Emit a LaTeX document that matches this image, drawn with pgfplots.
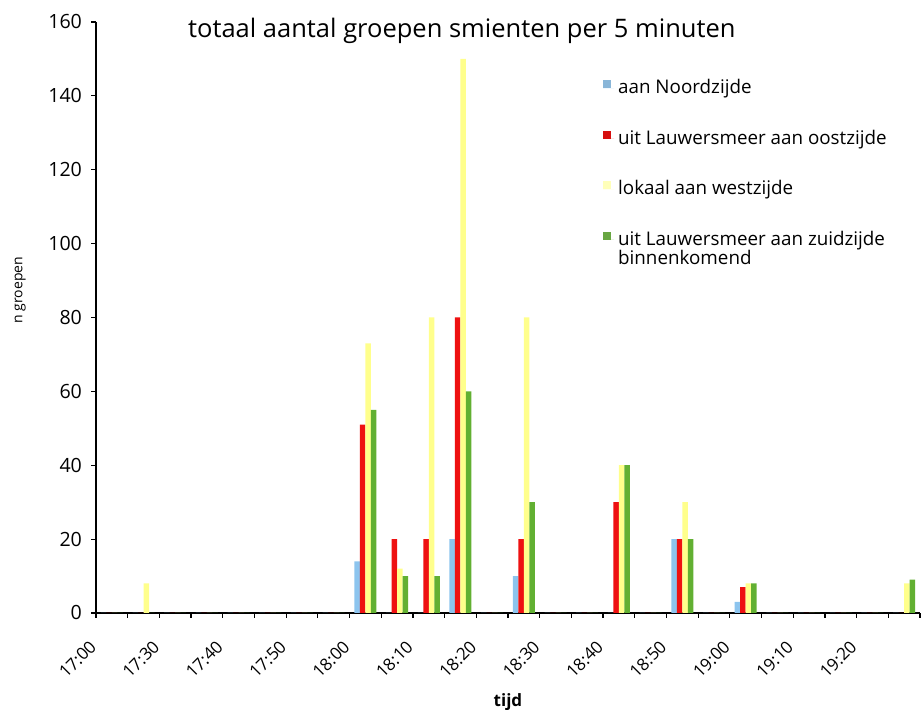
\documentclass[border=0pt]{standalone}
\usepackage{pgfplots}
\usepackage{pgfplotstable}
\pgfplotsset{compat=1.18}
\usepackage{fontspec}
\setmainfont{Open Sans}

\definecolor{noord}{HTML}{8CC4EE}
\definecolor{oost}{HTML}{EE1111}
\definecolor{west}{HTML}{FFFF8C}
\definecolor{zuid}{HTML}{62B032}

% groups of smienten per 5-minute interval, one row per interval
\pgfplotstableread{
k  noord oost west zuid
0  0     0    0    0
1  0     0    8    0
2  0     0    0    0
3  0     0    0    0
4  0     0    0    0
5  0     0    0    0
6  0     0    0    0
7  0     0    0    0
8  14    51   73   55
9  0     20   12   10
10 0     20   80   10
11 20    80   150  60
12 0     0    0    0
13 10    20   80   30
14 0     0    0    0
15 0     0    0    0
16 0     30   40   40
17 0     0    0    0
18 20    20   30   20
19 0     0    0    0
20 3     7    8    8
21 0     0    0    0
22 0     0    0    0
23 0     0    0    0
24 0     0    0    0
25 0     0    8    9
}\groepen

\begin{document}
\begin{tikzpicture}
\path[use as bounding box] (0,0) rectangle (461.5pt,355pt);
\begin{axis}[
  at={(48pt,48.5pt)}, anchor=south west,
  scale only axis, width=412pt, height=295.5pt,
  ymin=0, ymax=160, xmin=-0.5, xmax=25.5,
  axis x line*=bottom, axis y line*=left,
  axis line style={line width=0.8pt, black},
  tick align=outside,
  major tick length=0pt, minor tick length=2.4pt,
  major tick style={draw=none},
  minor tick style={black, line width=0.6pt},
  ytick={0,20,...,160}, minor ytick={0,20,...,160},
  yticklabel style={font=\fontsize{9.8}{11}\selectfont, xshift=-3.5pt},
  /pgf/number format/assume math mode=true,
  xtick={0,2,...,24},
  xticklabels={17:00,17:30,17:40,17:50,18:00,18:10,18:20,18:30,18:40,18:50,19:00,19:10,19:20},
  minor xtick={-0.5,0.5,...,25.5},
  xticklabel style={xshift=-7pt, yshift=-13pt, rotate=45, anchor=east,
    font=\fontsize{8.5}{10}\selectfont},
  ybar=0pt, bar width=2.75pt,
  title={totaal aantal groepen smienten per 5 minuten},
  title style={at={(axis description cs:0.444,0.953)}, anchor=base,
    font=\fontsize{12.75}{14}\selectfont},
  xlabel={tijd},
  xlabel style={at={(axis description cs:0.5,-0.1575)}, anchor=base,
    font=\fontsize{8.5}{10}\selectfont\bfseries},
  ylabel={n groepen},
  ylabel style={at={(axis description cs:-0.092,0.5465)}, anchor=center, rotate=0,
    font=\fontsize{7}{8}\selectfont},
  legend style={at={(rel axis cs:0.615,0.91)}, anchor=north west,
    draw=none, fill=none, inner sep=0pt,
    font=\fontsize{9.4}{8.3}\selectfont, row sep=12.6pt,
    cells={anchor=base west}},
  legend cell align=left,
]
\addplot[fill=noord, draw=none,
  legend image code/.code={\fill[noord!80!gray] (0pt,0pt) rectangle (4pt,4pt);
    \path (0pt,0pt) -- (5.5pt,0pt);}]
  table[x=k, y=noord]{\groepen};
\addlegendentry{aan Noordzijde}
\addplot[fill=oost, draw=none,
  legend image code/.code={\fill[oost!90!black] (0pt,0pt) rectangle (4pt,4pt);
    \path (0pt,0pt) -- (5.5pt,0pt);}]
  table[x=k, y=oost]{\groepen};
\addlegendentry{uit Lauwersmeer aan oostzijde}
\addplot[fill=west, draw=none,
  legend image code/.code={\fill[west!60!white] (0pt,0pt) rectangle (4pt,4pt);
    \path (0pt,0pt) -- (5.5pt,0pt);}]
  table[x=k, y=west]{\groepen};
\addlegendentry{lokaal aan westzijde}
\addplot[fill=zuid, draw=none,
  legend image code/.code={\fill[zuid!80!gray] (0pt,0pt) rectangle (4pt,4pt);
    \path (0pt,0pt) -- (5.5pt,0pt);}]
  table[x=k, y=zuid]{\groepen};
\addlegendentry{\begin{tabular}[t]{@{}l@{}}uit Lauwersmeer aan zuidzijde\\binnenkomend\end{tabular}}
\end{axis}
\end{tikzpicture}
\end{document}
